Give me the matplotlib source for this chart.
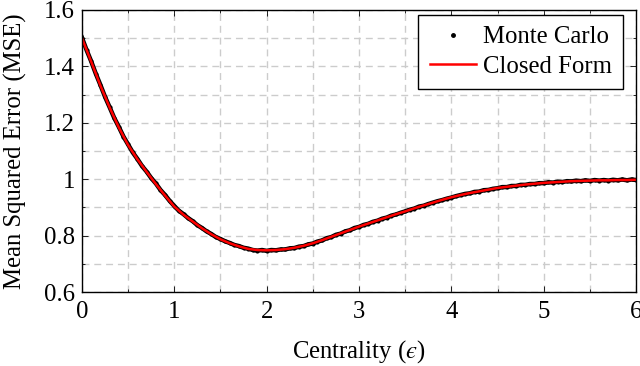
import matplotlib.pyplot as plt
from matplotlib.lines import Line2D
from matplotlib.ticker import MultipleLocator

# Closed form curve
cf_x = [0.0, 0.1, 0.2, 0.3, 0.4, 0.5, 0.6, 0.7, 0.8, 0.9,
        1.0, 1.1, 1.2, 1.3, 1.4, 1.5, 1.6, 1.7, 1.8, 1.9,
        2.0, 2.1, 2.2, 2.3, 2.4, 2.5, 2.6, 2.7, 2.8, 2.9,
        3.0, 3.1, 3.2, 3.3, 3.4, 3.5, 3.6, 3.7, 3.8, 3.9,
        4.0, 4.1, 4.2, 4.3, 4.4, 4.5, 4.6, 4.7, 4.8, 4.9,
        5.0, 5.1, 5.2, 5.3, 5.4, 5.5, 5.6, 5.7, 5.8, 5.9, 6.0]
cf_y = [1.500, 1.417, 1.332, 1.254, 1.183, 1.121, 1.071, 1.026, 0.983, 0.942,
        0.903, 0.874, 0.850, 0.826, 0.805, 0.787, 0.773, 0.762, 0.753, 0.749,
        0.748, 0.749, 0.752, 0.757, 0.764, 0.773, 0.784, 0.796, 0.808, 0.820,
        0.832, 0.843, 0.854, 0.865, 0.876, 0.886, 0.897, 0.907, 0.917, 0.927,
        0.936, 0.944, 0.951, 0.957, 0.963, 0.969, 0.973, 0.977, 0.981, 0.984,
        0.987, 0.989, 0.991, 0.993, 0.994, 0.995, 0.996, 0.996, 0.997, 0.997, 0.998]

# Monte Carlo estimates (noisy band)
mc_x = [0.00, 0.05, 0.10, 0.15, 0.20, 0.25, 0.30, 0.35, 0.40, 0.45,
        0.50, 0.55, 0.60, 0.65, 0.70, 0.75, 0.80, 0.85, 0.90, 0.95,
        1.00, 1.05, 1.10, 1.15, 1.20, 1.25, 1.30, 1.35, 1.40, 1.45,
        1.50, 1.55, 1.60, 1.65, 1.70, 1.75, 1.80, 1.85, 1.90, 1.95,
        2.00, 2.05, 2.10, 2.15, 2.20, 2.25, 2.30, 2.35, 2.40, 2.45,
        2.50, 2.55, 2.60, 2.65, 2.70, 2.75, 2.80, 2.85, 2.90, 2.95,
        3.00, 3.05, 3.10, 3.15, 3.20, 3.25, 3.30, 3.35, 3.40, 3.45,
        3.50, 3.55, 3.60, 3.65, 3.70, 3.75, 3.80, 3.85, 3.90, 3.95,
        4.00, 4.05, 4.10, 4.15, 4.20, 4.25, 4.30, 4.35, 4.40, 4.45,
        4.50, 4.55, 4.60, 4.65, 4.70, 4.75, 4.80, 4.85, 4.90, 4.95,
        5.00, 5.05, 5.10, 5.15, 5.20, 5.25, 5.30, 5.35, 5.40, 5.45,
        5.50, 5.55, 5.60, 5.65, 5.70, 5.75, 5.80, 5.85, 5.90, 5.95, 6.00]
mc_y = [1.502, 1.458, 1.418, 1.374, 1.334, 1.292, 1.255, 1.217, 1.185, 1.151,
        1.123, 1.095, 1.072, 1.047, 1.027, 1.004, 0.985, 0.962, 0.944, 0.923,
        0.905, 0.888, 0.876, 0.862, 0.851, 0.837, 0.827, 0.815, 0.806, 0.795,
        0.788, 0.780, 0.774, 0.767, 0.763, 0.757, 0.754, 0.749, 0.747, 0.749,
        0.746, 0.749, 0.748, 0.751, 0.751, 0.755, 0.756, 0.761, 0.763, 0.769,
        0.772, 0.779, 0.783, 0.791, 0.795, 0.803, 0.807, 0.815, 0.819, 0.827,
        0.831, 0.838, 0.842, 0.849, 0.853, 0.860, 0.864, 0.871, 0.875, 0.881,
        0.886, 0.892, 0.896, 0.903, 0.906, 0.912, 0.917, 0.922, 0.926, 0.931,
        0.935, 0.940, 0.944, 0.948, 0.950, 0.955, 0.956, 0.961, 0.962, 0.966,
        0.968, 0.972, 0.972, 0.976, 0.976, 0.980, 0.980, 0.983, 0.983, 0.986,
        0.986, 0.989, 0.988, 0.991, 0.990, 0.993, 0.992, 0.995, 0.993, 0.996,
        0.994, 0.997, 0.995, 0.997, 0.995, 0.998, 0.996, 0.999, 0.996, 0.999, 0.997]

plt.rcParams['font.family'] = ['Liberation Serif', 'DejaVu Serif']
plt.rcParams['mathtext.fontset'] = 'stix'

FS = 17.8

fig = plt.figure(figsize=(6.4, 3.66), dpi=100)
ax = fig.add_axes([0.128, 0.202, 0.866, 0.771])

# Monte Carlo band: dense black dots
ax.plot(mc_x, mc_y, color='black', linewidth=3.2, zorder=3)
ax.plot(mc_x, mc_y, linestyle='none', marker='.', markersize=4, color='black', zorder=3)
ax.plot(cf_x, cf_y, color='#ff0000', linewidth=1.8, zorder=4)

ax.set_xlim(0, 6)
ax.set_ylim(0.6, 1.6)
ax.xaxis.set_major_locator(MultipleLocator(1))
ax.xaxis.set_minor_locator(MultipleLocator(0.5))
ax.yaxis.set_minor_locator(MultipleLocator(0.1))
ax.set_yticks([0.6, 0.8, 1.0, 1.2, 1.4, 1.6])
ax.set_yticklabels(['0.6', '0.8', '1', '1.2', '1.4', '1.6'])

ax.grid(True, which='both', linestyle=(0, (5, 3.5)), color='#cccccc', linewidth=1.0)
ax.tick_params(which='both', direction='in', top=True, right=True, labelsize=FS)
ax.tick_params(axis='x', pad=6.5)
ax.tick_params(axis='y', pad=5)
ax.tick_params(which='major', length=4, width=0.6)
ax.tick_params(which='minor', length=2.5, width=0.6)
for s in ax.spines.values():
    s.set_linewidth(1.0)
    s.set_zorder(5)

ax.set_xlabel('Centrality ($\u03f5$)', fontsize=FS, labelpad=11)
ax.set_ylabel('Mean Squared Error (MSE)', fontsize=FS, labelpad=12)

handles = [Line2D([], [], linestyle='none', marker='.', markersize=5, color='black'),
           Line2D([], [], color='#ff0000', linewidth=1.8)]
leg = ax.legend(handles, ['Monte Carlo', 'Closed Form'], loc='upper right',
                bbox_to_anchor=(0.9765, 0.982), borderaxespad=0, fontsize=FS,
                fancybox=False, framealpha=1, edgecolor='black', handlelength=1.86,
                borderpad=0.45, labelspacing=0.28, handletextpad=0.3)
leg.get_frame().set_linewidth(1.0)

fig.savefig('out.png', dpi=100)
